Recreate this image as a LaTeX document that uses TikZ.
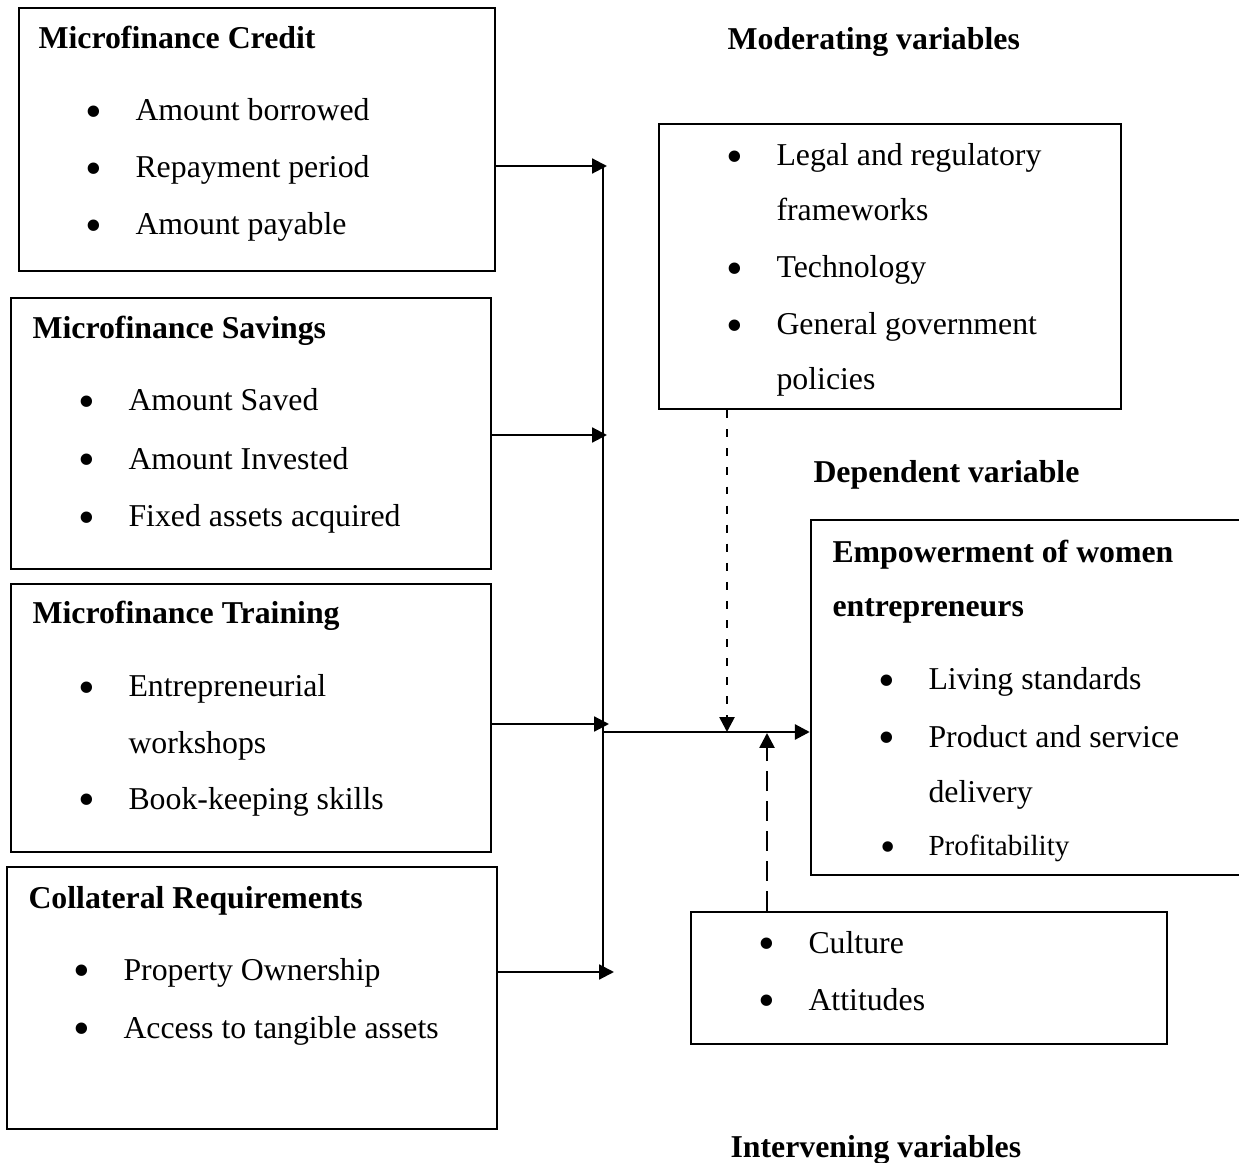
\documentclass[tikz,border=0pt]{standalone}
\usepackage{fontspec}
\setmainfont{Liberation Serif}
\usetikzlibrary{arrows.meta,fit}
\newcommand{\bul}{\llap{\raisebox{-2.5pt}{\scalebox{1.5}{\textbullet}}\hspace{12.4pt}}}

\begin{document}
\begin{tikzpicture}[x=0.3774pt,y=-0.3774pt,
    box/.style={draw,line width=0.9pt,inner sep=0pt},
    head/.style={anchor=base west,inner sep=0pt,font=\fontsize{12}{14}\selectfont\bfseries},
    txt/.style={anchor=base west,inner sep=0pt,font=\fontsize{12}{14}\selectfont},
    arr/.style={line width=0.8pt,-{Triangle[length=5.6pt,width=5.6pt]}},
    moddash/.style={arr,line width=1pt,dash pattern=on 3pt off 4.2pt},
    intdash/.style={arr,line width=1pt,dash pattern=on 7.5pt off 3.8pt}]
    \clip (0,0) rectangle (1239,1163);
    \pgfmathsetmacro{\busx}{603}
    \pgfmathsetmacro{\mainy}{732}

    % Independent variables
    \node[box,fit={(19,8) (495,271)}] (cred) {};
    \node[head] (credT) at (38,49) {Microfinance Credit};
    \node[txt] (cred1) at (135,121) {\bul Amount borrowed};
    \node[txt] (cred2) at (135,178) {\bul Repayment period};
    \node[txt] (cred3) at (135,235) {\bul Amount payable};

    \node[box,fit={(11,298) (491,569)}] (sav) {};
    \node[head] (savT) at (32,339) {Microfinance Savings};
    \node[txt] (sav1) at (128,411) {\bul Amount Saved};
    \node[txt] (sav2) at (128,469) {\bul Amount Invested};
    \node[txt] (sav3) at (128,527) {\bul Fixed assets acquired};

    \node[box,fit={(11,584) (491,852)}] (train) {};
    \node[head] (trainT) at (32,623) {Microfinance Training};
    \node[txt] (train1) at (128,697) {\bul Entrepreneurial};
    \node[txt] (train1b) at (128,753) {workshops};
    \node[txt] (train2) at (128,809) {\bul Book-keeping skills};

    \node[box,fit={(7,867) (497,1129)}] (coll) {};
    \node[head] (collT) at (28,908) {Collateral Requirements};
    \node[txt] (coll1) at (123,980) {\bul Property Ownership};
    \node[txt] (coll2) at (123,1038) {\bul Access to tangible assets};

    % Moderating variables
    \node[head] (moderT) at (727,50) {Moderating variables};
    \node[box,fit={(659,124) (1121,409)}] (moder) {};
    \node[txt] (moder1) at (776,166) {\bul Legal and regulatory};
    \node[txt] (moder1b) at (776,221) {frameworks};
    \node[txt] (moder2) at (776,278) {\bul Technology};
    \node[txt] (moder3) at (776,335) {\bul General government};
    \node[txt] (moder3b) at (776,390) {policies};

    % Dependent variable
    \node[head] (empowL) at (813,483) {Dependent variable};
    \node[box,fit={(811,520) (1250,875)}] (empow) {};
    \node[head] (empowT) at (832,562) {Empowerment of women};
    \node[head] (empowTb) at (832,617) {entrepreneurs};
    \node[txt] (empow1) at (928,690) {\bul Living standards};
    \node[txt] (empow2) at (928,747) {\bul Product and service};
    \node[txt] (empow2b) at (928,802) {delivery};
    \node[txt,font=\fontsize{11}{13}\selectfont] (empow3) at (928,855) {\bul Profitability};

    % Intervening variables
    \node[box,fit={(691,912) (1167,1044)}] (interv) {};
    \node[txt] (interv1) at (808,953) {\bul Culture};
    \node[txt] (interv2) at (808,1010) {\bul Attitudes};
    \node[head] (intervT) at (730,1157) {Intervening variables};

    % Connectors
    \coordinate (bustop) at (\busx,166);
    \coordinate (busbot) at (\busx,970);
    \coordinate (junc) at (\busx,\mainy);
    \coordinate (in1) at (607,166);
    \coordinate (in2) at (607,435);
    \coordinate (in3) at (609,724);
    \coordinate (in4) at (614,972);
    \coordinate (modin) at (727,\mainy);
    \coordinate (intin) at (767,733);

    \draw[line width=0.8pt] (bustop) -- (busbot);
    \draw[arr] (cred.east |- in1) -- (in1);
    \draw[arr] (sav.east |- in2) -- (in2);
    \draw[arr] (train.east |- in3) -- (in3);
    \draw[arr] (coll.east |- in4) -- (in4);
    \draw[arr,line width=1.1pt] (junc) -- (empow.west |- junc);
    \draw[moddash] (moder.south -| modin) -- (modin);
    \draw[intdash] (interv.north -| intin) -- (intin);
\end{tikzpicture}
\end{document}
